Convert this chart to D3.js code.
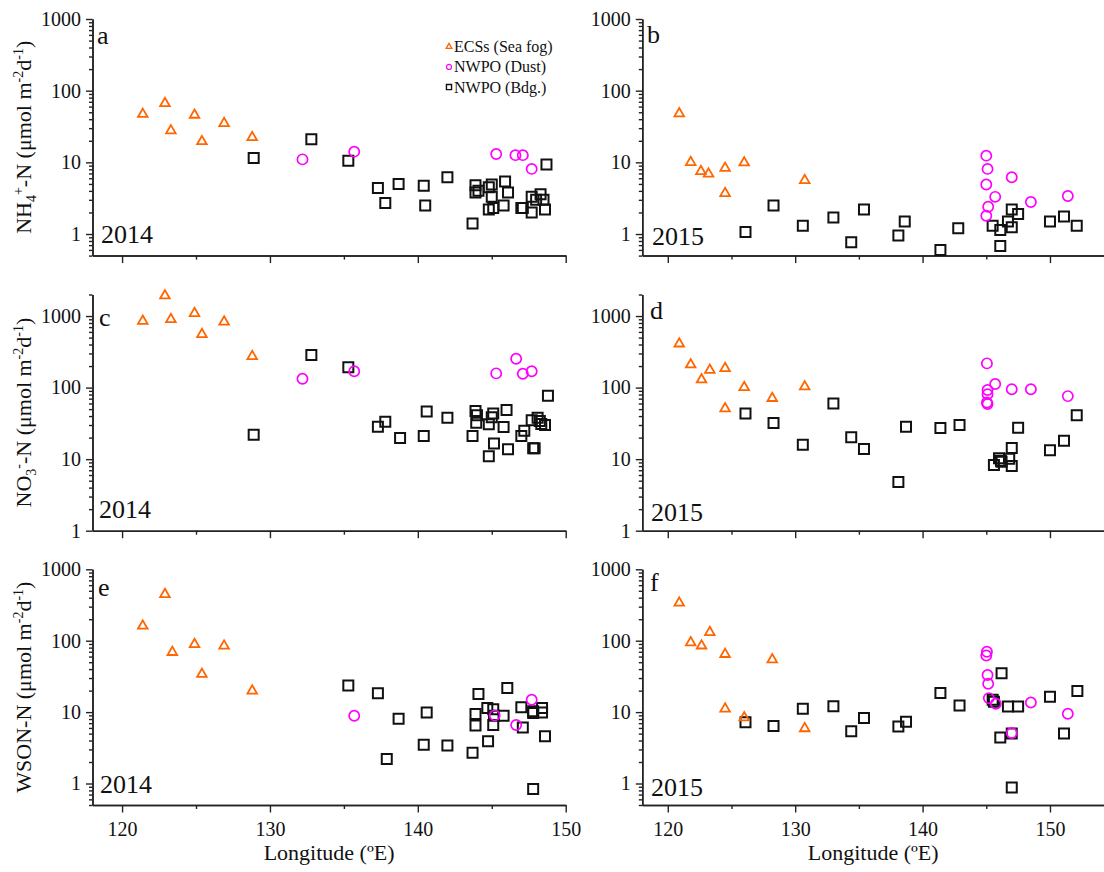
<!DOCTYPE html>
<html>
<head>
<meta charset="utf-8">
<script src="https://cdn.jsdelivr.net/npm/d3@7"></script>
<style>
body { margin:0; background:#fff; }
svg text { font-family:'Liberation Serif', Tinos, 'Times New Roman', 'DejaVu Serif', serif; fill:#111; }
</style>
</head>
<body>
<script>
// data: [longitude (ºE), flux (µmol m-2 d-1)]
// a: NH4+-N 2014
var aTri = [[121.4,47],[122.9,66.5],[123.3,27.7],[124.9,45.8],[125.4,19.6],[126.9,35],[128.8,22.3]];
var aCir = [[132.2,11],[135.7,14.1],[145.3,13.1],[146.6,12.6],[147.1,12.6],[147.7,8.1]];
var aSq  = [[128.9,11.5],[132.8,21],[135.3,10.5],[137.3,4.4],[137.8,2.7],[138.7,5.0],[140.4,4.7],[140.5,2.5],[142.0,6.2],[143.7,1.4],
            [143.9,4.8],[143.9,3.8],[144.1,4.0],[144.8,4.5],[145.0,4.9],[145.0,3.3],[144.8,2.2],[145.1,2.3],[145.8,2.5],[145.9,5.4],
            [146.1,3.8],[147.0,2.3],[147.1,2.3],[147.7,3.3],[147.7,2.0],[148.0,3.0],[148.3,3.6],[148.5,3.0],[148.6,2.2],[148.7,9.3]];
// b: NH4+-N 2015
var bTri = [[120.9,48],[121.8,10],[122.6,7.5],[123.2,6.9],[124.5,8.3],[124.5,3.7],[126.0,9.9],[130.75,5.6]];
var bCir = [[145.0,12.4],[145.1,8.1],[145.0,4.9],[145.15,2.4],[145.0,1.8],[145.7,3.3],[147.0,6.2],[148.5,2.8],[151.4,3.4]];
var bSq  = [[126.1,1.07],[128.3,2.5],[130.6,1.3],[133.0,1.7],[134.4,0.77],[135.4,2.2],[138.1,0.95],[138.6,1.5],[141.4,0.6],[142.8,1.2],
            [145.5,1.3],[146.1,1.14],[146.1,0.68],[146.7,1.5],[147.0,1.24],[147.0,2.2],[147.5,1.9],[150.0,1.5],[151.1,1.75],[152.1,1.3]];
// c: NO3--N 2014
var cTri = [[121.4,851],[122.9,1925],[123.3,900],[124.9,1090],[125.4,555],[126.9,832],[128.8,274]];
var cCir = [[132.2,133],[135.7,169],[145.3,158],[146.65,253],[147.1,156],[147.7,169]];
var cSq  = [[128.9,22],[132.8,285],[135.3,192],[137.3,28.4],[137.8,33.4],[138.8,19.7],[140.4,21],[140.6,46.5],[142.0,37.9],[143.7,21],
            [143.9,47],[144.0,41],[143.95,32.3],[144.8,11],[144.8,30.7],[145.1,43.6],[145.0,38.5],[145.15,16.6],[145.8,28.1],[146.0,48.6],
            [146.1,13.7],[147.0,21],[147.2,25],[147.7,35],[147.8,14.2],[147.9,14.2],[148.1,38],[148.25,34],[148.35,31],[148.6,30],[148.8,77]];
// d: NO3--N 2015
var dTri = [[120.9,410],[121.8,209],[122.65,129],[123.3,176],[124.5,186],[124.5,51],[126.0,101],[128.2,71],[130.75,103]];
var dCir = [[145.05,218],[145.1,92.5],[145.1,81],[145.05,62],[145.1,59],[145.7,112],[147.0,95],[148.5,95],[151.4,76]];
var dSq  = [[126.1,43.6],[128.3,32],[130.6,15.9],[133.0,60],[134.4,20.2],[135.4,13.9],[138.1,4.8],[138.7,28.4],[141.4,27.2],[142.9,30],
            [145.6,8.3],[146.0,10.3],[146.15,9.5],[146.2,9.2],[146.8,10.1],[147.0,14.3],[147.0,8.0],[147.5,27.5],[150.0,13.3],[151.1,18.1],[152.1,41]];
// e: WSON-N 2014
var eTri = [[121.4,161],[122.9,447],[123.4,69],[124.9,89],[125.4,34],[126.9,84.6],[128.8,19.9]];
var eCir = [[135.7,8.9],[145.2,9],[146.65,6.6],[147.7,14.9]];
var eSq  = [[135.3,23.5],[137.3,18.4],[137.9,2.2],[138.7,8.1],[140.4,3.5],[140.6,9.9],[142.0,3.4],[143.7,2.7],[143.9,9.4],[143.9,6.5],
            [144.1,18],[144.75,3.9],[144.7,11.4],[145.1,11],[145.15,8.9],[145.1,6.6],[145.8,8.9],[146.05,21.7],[147.0,11.7],[147.1,6.1],
            [147.8,9.7],[147.8,10.3],[147.8,0.84],[148.4,11.4],[148.4,9.9],[148.6,4.6]];
// f: WSON-N 2015
var fTri = [[120.9,338],[121.8,94],[122.65,85],[123.3,131],[124.5,64.7],[124.5,11.1],[126.0,8.4],[128.2,54.5],[130.75,5.9]];
var fCir = [[145.05,70],[145.0,62],[145.1,33],[145.15,24.9],[145.2,15.7],[145.75,13.1],[147.0,5.1],[148.5,13.6],[151.4,9.5]];
var fSq  = [[126.1,7.2],[128.3,6.4],[130.6,11.1],[133.0,12.1],[134.4,5.4],[135.4,8.3],[138.1,6.3],[138.7,7.3],[141.4,18.5],[142.9,12.4],
            [145.5,14.9],[145.6,14],[146.1,4.4],[146.2,35],[146.7,12],[147.0,5.0],[147.0,0.88],[147.5,12],[150.0,16.4],[151.1,5.0],[152.15,19.7]];

var xTicks = [120,130,140,150];
var xMinor = [125,135,145];
var yMajor = [1,10,100,1000];
var legendNames = ["ECSs (Sea fog)","NWPO (Dust)","NWPO (Bdg.)"];

var orange = "#ff6600", magenta = "#ff00ff";
var serif = "'Liberation Serif', Tinos, 'Times New Roman', 'DejaVu Serif', serif";

var svg = d3.select("body").append("svg").attr("width",1104).attr("height",872)
  .attr("font-family", serif);

// columns and rows of the 3x2 grid
var cols = [
  {x0:92.5, x1:565.7, dom:[118,150]},
  {x0:642.3, x1:1104, dom:[118,154.24]}
];
var rows = [
  {top:19,    bot:255.6, dom:[0.5,1000]},
  {top:294.5, bot:530.7, dom:[1,2000]},
  {top:569.3, bot:805,   dom:[0.5,1000]}
];

var panels = [
  {r:0,c:0,tri:aTri,cir:aCir,sq:aSq,letter:"a",lx:97, ly:44, year:"2014",yx:101,yy:242.5},
  {r:0,c:1,tri:bTri,cir:bCir,sq:bSq,letter:"b",lx:647,ly:42.7,year:"2015",yx:652,yy:245},
  {r:1,c:0,tri:cTri,cir:cCir,sq:cSq,letter:"c",lx:99, ly:326, year:"2014",yx:99, yy:518.3},
  {r:1,c:1,tri:dTri,cir:dCir,sq:dSq,letter:"d",lx:650,ly:319, year:"2015",yx:651,yy:521.3},
  {r:2,c:0,tri:eTri,cir:eCir,sq:eSq,letter:"e",lx:98, ly:596, year:"2014",yx:100,yy:793.3},
  {r:2,c:1,tri:fTri,cir:fCir,sq:fSq,letter:"f",lx:650,ly:590.7,year:"2015",yx:651,yy:796}
];

var yTitles = [
  [{t:"NH"},{t:"4",s:"sub"},{t:"+",s:"sup"},{t:"-N (μmol m"},{t:"-2",s:"sup"},{t:"d"},{t:"-1",s:"sup"},{t:")"}],
  [{t:"NO"},{t:"3",s:"sub"},{t:"-",s:"sup"},{t:"-N (μmol m"},{t:"-2",s:"sup"},{t:"d"},{t:"-1",s:"sup"},{t:")"}],
  [{t:"WSON-N (μmol m"},{t:"-2",s:"sup"},{t:"d"},{t:"-1",s:"sup"},{t:")"}]
];

var triSym = d3.symbol().type(d3.symbolTriangle).size(40);
var cirSym = d3.symbol().type(d3.symbolCircle).size(82);
var sqSym  = d3.symbol().type(d3.symbolSquare).size(100);

function styleAxis(g){
  g.attr("font-family", serif).attr("font-size", 20);
  g.selectAll("path.domain").attr("stroke","#222").attr("stroke-width",1.5);
  g.selectAll(".tick line").attr("stroke","#222").attr("stroke-width",1.4);
  g.selectAll(".tick text").attr("fill","#111");
}

panels.forEach(function(p){
  var col = cols[p.c], row = rows[p.r];
  var x = d3.scaleLinear().domain(col.dom).range([col.x0,col.x1]);
  var y = d3.scaleLog().domain(row.dom).range([row.bot,row.top]);
  var g = svg.append("g");

  // minor ticks
  var yMinor = y.ticks().filter(function(v){ return yMajor.indexOf(v) < 0; });
  g.append("g").attr("transform","translate("+col.x0+",0)")
    .call(d3.axisLeft(y).tickValues(yMinor).tickSize(3.5).tickSizeOuter(0).tickFormat(""))
    .call(styleAxis);
  g.append("g").attr("transform","translate("+col.x0+",0)")
    .call(d3.axisLeft(y).tickValues(yMajor).tickSize(6.5).tickSizeOuter(0).tickPadding(5).tickFormat(d3.format("d")))
    .call(styleAxis);

  g.append("g").attr("transform","translate(0,"+row.bot+")")
    .call(d3.axisBottom(x).tickValues(xMinor).tickSize(4).tickSizeOuter(0).tickFormat(""))
    .call(styleAxis);
  var xa = d3.axisBottom(x).tickValues(xTicks).tickSize(7.5).tickSizeOuter(0).tickPadding(9);
  if (p.r < 2) xa.tickFormat("");
  g.append("g").attr("transform","translate(0,"+row.bot+")").call(xa).call(styleAxis);

  // marks
  g.selectAll(".sq").data(p.sq).enter().append("path").attr("class","sq")
    .attr("d",sqSym).attr("transform",function(d){ return "translate("+x(d[0])+","+y(d[1])+")"; })
    .attr("fill","none").attr("stroke","#111").attr("stroke-width",2);
  g.selectAll(".cir").data(p.cir).enter().append("path").attr("class","cir")
    .attr("d",cirSym).attr("transform",function(d){ return "translate("+x(d[0])+","+y(d[1])+")"; })
    .attr("fill","none").attr("stroke",magenta).attr("stroke-width",1.7);
  g.selectAll(".tri").data(p.tri).enter().append("path").attr("class","tri")
    .attr("d",triSym).attr("transform",function(d){ return "translate("+x(d[0])+","+y(d[1])+")"; })
    .attr("fill","none").attr("stroke",orange).attr("stroke-width",1.8);

  g.append("text").attr("x",p.lx).attr("y",p.ly).attr("font-size",26).text(p.letter);
  g.append("text").attr("x",p.yx).attr("y",p.yy).attr("font-size",26).text(p.year);

  if (p.c === 0) {
    var t = g.append("text").attr("font-size",22).attr("text-anchor","middle")
      .attr("transform","translate(31,"+((row.top+row.bot)/2)+") rotate(-90)");
    var cur = 0;
    yTitles[p.r].forEach(function(part){
      var target = part.s === "sub" ? 5 : part.s === "sup" ? -8 : 0;
      t.append("tspan").attr("dy",target-cur)
        .attr("font-size", part.s ? 14 : 22).text(part.t);
      cur = target;
    });
  }
  if (p.r === 2) {
    g.append("text").attr("x",(col.x0+col.x1)/2).attr("y",860).attr("text-anchor","middle")
      .attr("font-size",22).text("Longitude (ºE)");
  }
});

// legend (panel a)
var legSyms = [
  {sym:d3.symbol().type(d3.symbolTriangle).size(14), col:orange, w:1.3},
  {sym:d3.symbol().type(d3.symbolCircle).size(20), col:magenta, w:1.3},
  {sym:d3.symbol().type(d3.symbolSquare).size(26), col:"#111", w:1.4}
];
var leg = svg.append("g").attr("transform","translate(449,46.7)");
legendNames.forEach(function(name,i){
  leg.append("path").attr("d",legSyms[i].sym()).attr("transform","translate(0,"+(i*20.2)+")")
    .attr("fill","none").attr("stroke",legSyms[i].col).attr("stroke-width",legSyms[i].w);
  leg.append("text").attr("x",5).attr("y",i*20.2+5.5).attr("font-size",16).text(name);
});
</script>
</body>
</html>
